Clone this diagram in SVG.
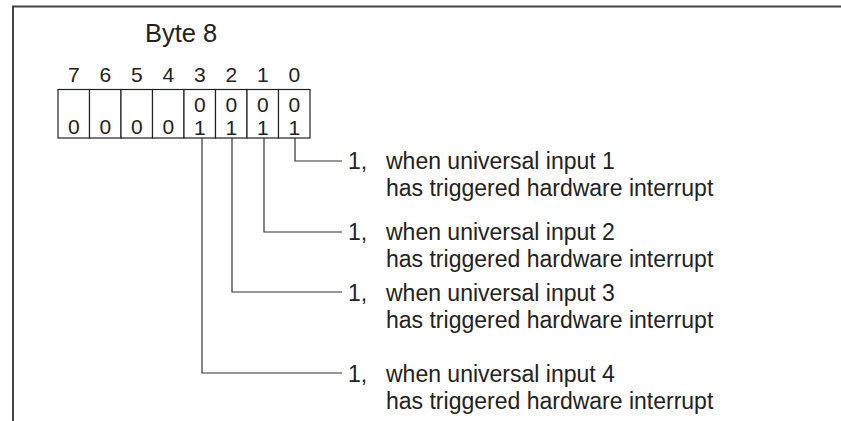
<svg xmlns="http://www.w3.org/2000/svg" width="841" height="421" viewBox="0 0 841 421">
<style>
.frame{fill:none;stroke:#444;stroke-width:2}
.cell{fill:#fff;stroke:#222;stroke-width:1.2}
.ln{fill:none;stroke:#333;stroke-width:1.2}
text{font-family:"Liberation Sans",Arial,sans-serif;fill:#222}
.title{font-size:25.5px}
.bit{font-size:21px;text-anchor:middle}
.val{font-size:21px;text-anchor:middle}
.body{font-size:23px}
</style>
<rect width="841" height="421" fill="#fff"/>
<path class="frame" d="M13,421 V6.5 H841"/>
<g id="title"><text class="title" x="145" y="42">Byte 8</text></g>
<g id="bitnumbers">
<text class="bit" x="73.75" y="82">7</text>
<text class="bit" x="105.25" y="82">6</text>
<text class="bit" x="136.75" y="82">5</text>
<text class="bit" x="168.25" y="82">4</text>
<text class="bit" x="199.75" y="82">3</text>
<text class="bit" x="231.25" y="82">2</text>
<text class="bit" x="262.75" y="82">1</text>
<text class="bit" x="294.25" y="82">0</text>
</g>
<g id="byte">
<g id="bit7"><rect class="cell" x="58" y="89.5" width="31.5" height="48.5"/><text class="val" x="73.75" y="134">0</text></g>
<g id="bit6"><rect class="cell" x="89.5" y="89.5" width="31.5" height="48.5"/><text class="val" x="105.25" y="134">0</text></g>
<g id="bit5"><rect class="cell" x="121" y="89.5" width="31.5" height="48.5"/><text class="val" x="136.75" y="134">0</text></g>
<g id="bit4"><rect class="cell" x="152.5" y="89.5" width="31.5" height="48.5"/><text class="val" x="168.25" y="134">0</text></g>
<g id="bit3"><rect class="cell" x="184" y="89.5" width="31.5" height="48.5"/><text class="val" x="199.75" y="112">0</text><text class="val" x="199.75" y="135">1</text></g>
<g id="bit2"><rect class="cell" x="215.5" y="89.5" width="31.5" height="48.5"/><text class="val" x="231.25" y="112">0</text><text class="val" x="231.25" y="135">1</text></g>
<g id="bit1"><rect class="cell" x="247" y="89.5" width="31.5" height="48.5"/><text class="val" x="262.75" y="112">0</text><text class="val" x="262.75" y="135">1</text></g>
<g id="bit0"><rect class="cell" x="278.5" y="89.5" width="31.5" height="48.5"/><text class="val" x="294.25" y="112">0</text><text class="val" x="294.25" y="135">1</text></g>
</g>
<g id="connectors">
<path class="ln" d="M295,138 V161 H342"/>
<path class="ln" d="M264,138 V232 H342"/>
<path class="ln" d="M232,138 V292 H342"/>
<path class="ln" d="M202,138 V373 H342"/>
</g>
<g id="desc0"><text class="body" x="348" y="169">1,</text><text class="body" x="386" y="169">when universal input 1</text><text class="body" x="386" y="196">has triggered hardware interrupt</text></g>
<g id="desc1"><text class="body" x="348" y="240">1,</text><text class="body" x="386" y="240">when universal input 2</text><text class="body" x="386" y="267">has triggered hardware interrupt</text></g>
<g id="desc2"><text class="body" x="348" y="301">1,</text><text class="body" x="386" y="301">when universal input 3</text><text class="body" x="386" y="328">has triggered hardware interrupt</text></g>
<g id="desc3"><text class="body" x="348" y="382">1,</text><text class="body" x="386" y="382">when universal input 4</text><text class="body" x="386" y="409">has triggered hardware interrupt</text></g>
</svg>
